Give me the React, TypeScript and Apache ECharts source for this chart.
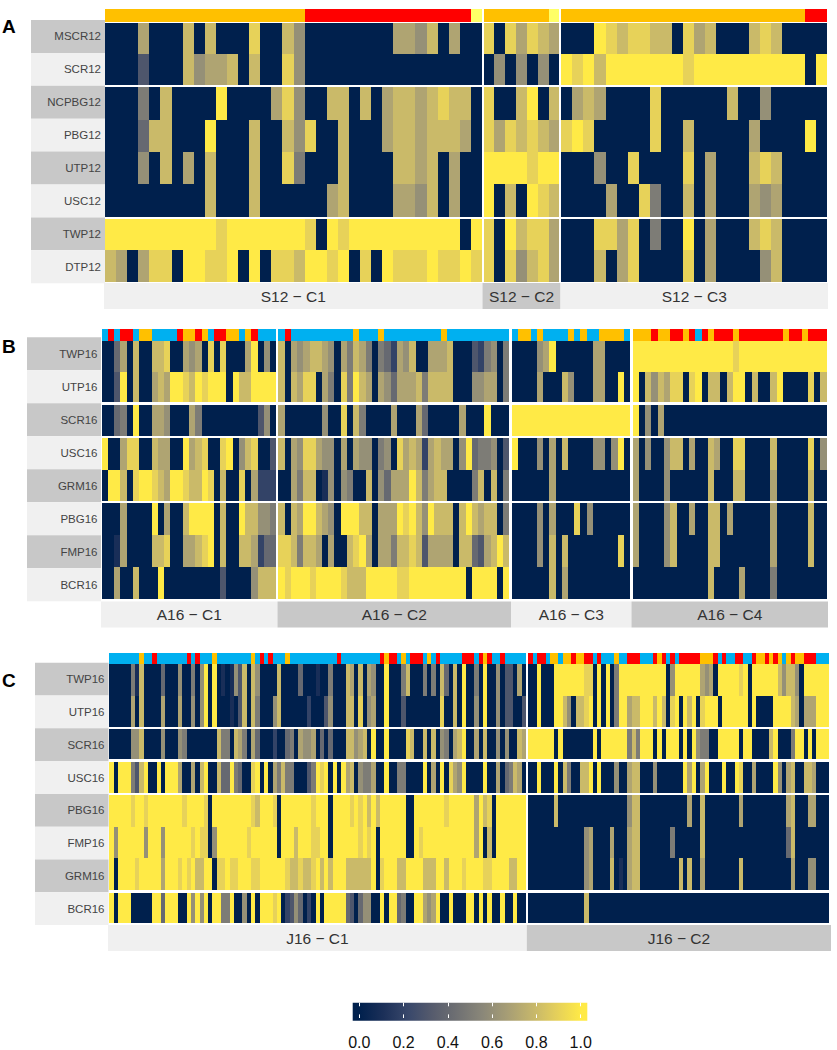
import React, { useEffect, useRef } from "react";
import * as echarts from "echarts";

// Colour-bar and annotation codes
const CIVIDIS = ["#00204D", "#1C3059", "#39486B", "#575C6D", "#707173", "#8A8779", "#A69D75", "#C4B56C", "#E4CF5B", "#FFEA46"];
const ANNOT_CODES = ["O", "R", "B", "Y"];
const ANNOT_COLORS = ["#FFC000", "#FF0000", "#00B0F0", "#FFFF66"];
const LEGEND_TICKS = [0, 0.2, 0.4, 0.6, 0.8, 1];

// Values: one character per cell, in tenths; X = 1.0 (spaces are ignored)
const A_ROWS = ["MSCR12", "SCR12", "NCPBG12", "PBG12", "UTP12", "USC12", "TWP12", "DTP12"];
const A_NAMES = ["S12 \u2212 C1", "S12 \u2212 C2", "S12 \u2212 C3"];
const S12_C1_ANNOT = "OOOOOOOOOOOOOOOOOO RRRRRRRRRRRRRRR Y";
const S12_C1 = [
  "000 7 000 8 0 8 000 9 00 8 6 00000000 7768 0 7 00",
  "000 3 000 8 6 7 7 8 0 8 00 9 6 0000000000000000",
  "000508 0000 X 0000 796 00 88 0 8 0 78878988 0",
  "000 4 8 8 000 X 000 8 00 8 6 9 00 8 000 7 8 8 7 8 8 8 7 0",
  "000 6 0 8 0 7 0 8 000 8 00 9 5 000 8 0000 8 8 7 8 0 7 00",
  "000000000 8 000 8 000000 7 8 0000 7 7 6 8 0 7 00",
  "XXXXXXXXXX 9 XXXXXXX 9 0 X 9 XXXXXXXXXX 0 X",
  "8 7 0 7 9 9 0 X X 9 9 X 0 X 0 9 9 8 X X 9 X 0 9 0 X 9 9 9 X 9 9 X 9",
];
const S12_C2_ANNOT = "OOOOOOY";
const S12_C2 = ["9097987", "0606060", "9008X08", "9798987", "XXXX9XX", "X080X98", "90X8997", "9096897"];
const S12_C3_ANNOT = "OOOOOOOOOOOOOOOOOOOOOO RR";
const S12_C3 = [
  "000 X 9 8 9 9 8 8 0 9 7 8 000 8 9 8 0000",
  "X 9 X 8 XXXXXXX 9 XXXXXXXXXX 0 X",
  "0 7 8 7 0000 9 000000 8 00 6 00000",
  "9 X 9 00000 9 00 8 00000 7 0000 X 0",
  "000 6 00 9 0000 9 0 7 000 8 9 8 0000",
  "0000 7 00 9 5 00 8 0 7 000 7 6 7 0000",
  "000 9 9 7 9 0 5 00 X 0 7 000 8 9 8 0000",
  "000 8 0 7 9 0000 9 0 7 0000 6 8 0000",
];

const B_ROWS = ["TWP16", "UTP16", "SCR16", "USC16", "GRM16", "PBG16", "FMP16", "BCR16"];
const B_NAMES = ["A16 \u2212 C1", "A16 \u2212 C2", "A16 \u2212 C3", "A16 \u2212 C4"];
const A16_C1_ANNOT = "BRBRRBOOBBBBROOROBRROOBORBBB";
const A16_C1 = [
  "0 0 4 7 0 8 0 0 8 8 9 0 0 7 6 7 0 9 0 9 0 0 0 7 X 0 6 0",
  "0 0 3 X 0 8 0 0 7 8 7 X X 9 8 X 9 X X X 0 X 8 8 X X X X",
  "0 0 4 5 0 X 0 0 7 7 6 0 0 0 7 5 0 0 0 0 0 0 0 0 0 3 6 0",
  "X 0 0 7 9 9 0 0 8 7 7 0 0 X 7 8 9 0 0 9 X 0 6 8 9 0 0 3",
  "0 X X 8 0 9 X X 9 8 7 X X 9 8 8 X 9 0 8 0 0 9 0 7 2 2 2",
  "0 0 0 7 0 0 0 0 X 0 7 0 0 8 X X X X 0 8 0 0 X 8 8 6 6 5",
  "0 0 1 7 0 0 0 0 8 8 9 0 0 7 7 8 9 X 0 8 0 0 8 8 7 2 4 4",
  "0 0 7 0 0 8 0 0 0 X 0 0 0 0 0 0 0 0 0 3 0 0 0 0 6 8 8 8",
];
const A16_C2_ANNOT = "BR BBBBBBBBBB O BBB O BBBBBBBBB O BBBBBBBBBB";
const A16_C2 = [
  "8 0 7 6 7 8 8 7 6 0 7 5 8 7 5 0 5 4 2 7 6 8 0 0 7 7 7 8 0 0 0 3 2 5 6 0 5",
  "8 0 8 7 9 9 0 7 5 0 9 5 X 8 7 0 7 6 4 7 7 7 8 5 8 8 8 8 0 0 0 6 6 7 7 0 5",
  "7 000000 6 00 9 0 8 5 0000 7 000 7 4 00000 7 000 X 000",
  "8 0 7 6 9 9 7 6 6 0 7 0 7 6 6 0 5 6 0 9 7 8 7 2 7 8 7 7 0 6 X 4 5 5 6 0 3",
  "0 0 7 5 8 8 0 1 6 0 6 5 0 0 8 0 6 4 7 7 7 X 8 5 7 8 8 0 0 0 0 5 8 0 8 0 5",
  "8 0 8 7 X X 8 7 6 0 X X X 8 8 0 7 7 7 X 9 X 8 6 X 8 8 8 0 8 X 8 7 8 8 0 5",
  "9 9 8 5 8 8 7 0 7 0 0 8 9 X 7 0 7 7 5 8 8 9 8 3 7 7 7 7 0 8 8 4 3 7 8 X 8",
  "X 9 X X X 9 X X X X 9 8 8 8 X X X X X 9 9 X X X X X X X X X 0 X X X X 0 X",
];
const A16_C3_ANNOT = "B OO B O BBBB O B O BB OOOO B";
const A16_C3 = [
  "0000 6 7 X 000000 7 7 0000",
  "0000 7 000 8 6 000 7 7 00 X 0",
  "XXXXXXXXXXXXXXXXXXX",
  "X 000 6 0 7 0 8 0000 6 6 0 6 X 0",
  "000000 7 000000000000",
  "0000 6 0 7 000 9 0 6 000000",
  "0000 6 0 8 0 8 00000000 9 0",
  "000000 8 0 7 0000000000",
];
const A16_C4_ANNOT = "OOO R OO RR O R B R O RRR O RRRRRRR O RR O RRR";
const A16_C4 = [
  "XXXXXXXXXXXXXXXX 9 XXXXXXXXXXXXXX",
  "X 0 8 6 8 7 9 9 0 9 X 0 8 8 0 8 X X 0 8 0 0 8 X 0 0 0 0 9 0 8",
  "X 0 6 0 7 00000000000000000000000000",
  "7 0 6 0 0 6 8 8 0 7 0 0 8 7 0 0 9 9 0 0 0 0 8 0 0 0 0 0 9 0 6",
  "7 0000 6 000000 8 000 8 8 0000 7 00000 8 00",
  "7 0000 6 8 00 7 00 8 8 0 7 000000 7 00000 8 00",
  "7 0000 6 8 00000 8 8 00000000 7 00000 8 00",
  "000000000000 8 0000 7 0000 5 00000000",
];

const C_ROWS = ["TWP16", "UTP16", "SCR16", "USC16", "PBG16", "FMP16", "GRM16", "BCR16"];
const C_NAMES = ["J16 \u2212 C1", "J16 \u2212 C2"];
const J16_C1_ANNOT = "BBBBBBBOBB RBBBBBBBRB RBBBOBBBBB BBBOBRBRBB BOBBBBBBBB BBBRBBBBBB BBBRORRBOB RRRBOBRBBB BBRRRBRORB BRBBBBB";
const J16_C1 = [
  "0000051800 0040006005 06X0X01016 3808600008 0000400010 0500087080 7600X00058 0005050840 80X0050X00 6033070",
  "0000070800 0070007006 06X0X00010 3808500068 0000002000 3600088090 6700X00030 0000000900 80X0060X00 6033003",
  "0000066800 0060006500 0000085508 7507400020 0450766704 0400088678 0X00X00009 8008080650 78X0070800 6060087",
  "X0XXX538X0 0X0XXX7007 08X00844X5 4009X0X075 85500035X9 X0X0X78065 5700X00550 000X070X09 76X0000X00 7045870",
  "XXXXX9XX9X XXXXXXX9XX XX90XXXXXX XXX98XXX90 XXXXXXX9XX X0XXXX9X9X 8X8XXXXXX0 0XXXXXXX9X XXXXX7X890 XXXXXXX",
  "X6XXXXXX6X XX6XXXXXX9 X9906XXXXX XX9XXXXXX0 XXX8XXX99X X0XXXXXX9X 9X0XXXXXX0 0X9XXXXXXX XXXXX7X080 XXXXXXX",
  "X0XXXX9XXX XX7XXX9X9X 88XX099X99 XXX99XXXXX X9889889X8 X8XXX88888 8X09XXX88X XXX888XX8X XX9XXXX99X XXX88XX",
  "X0XXX00000 XX4XXX00X6 X6X0XX55X0 060X0XXX9X 02364020X0 XXXXX43046 600X0XX450 0XX767X00X 000XX0X0X0 0X00X00",
];
const J16_C2_ANNOT = "RBRRBOOBOO ROORRBRBBB OBBRRRBBBR ORBRBRRRRR OOORBRBBRR BBROOROROB OROORRRBBB";
const J16_C2 = [
  "00X000XXXX XXX990X0X0 5XXXXXXXXX XX06XXXXXX 7670XXXXX9 X0XXXXXX86 8860XXXXXX",
  "00X000XX86 0889X0X0X0 5XX788XXX8 X809X0X8X0 9XXX0XXXXX X0X0000XXX X870777XXX",
  "XXXXXX0X00 00000X0XXX XXX585XXX0 X0XXX0X0X6 5500XXXXX0 XX00008X00 05XX0X0XXX",
  "00X000X085 0088X0X000 6007880006 000000X7X0 7X000X00X9 0070000X60 7800887000",
  "0000008000 0000000000 0006880000 0000000700 8000000007 0000000000 7800077000",
  "0000000000 0006700007 0007880000 0005000000 8000000000 0000000000 4800000000",
  "0000000000 0006700008 0107880000 0000080800 7000000008 0000000000 0700066000",
  "0000000000 0008000000 0000000000 0000000000 0000000000 0000000000 0000000000",
];

// Layout (page pixels)
const PANELS = [
  {
    letter: "A", letterY: 26, labelRight: 101, boxX: [31, 105], boxY: 20, boxH: 32.9,
    annotY: [9.3, 22.2], groups: [[0, 2, 22.6, 85], [2, 6, 87.3, 216.7], [6, 8, 218.7, 281.7]],
    stripY: [283, 309], rows: A_ROWS, names: A_NAMES,
    facetX: [[105, 482], [483.6, 559.4], [561.3, 826.7]],
    stripX: [[104, 482.5], [482.5, 560.5], [560.5, 828]],
    stripDark: [false, true, false],
    annots: [S12_C1_ANNOT, S12_C2_ANNOT, S12_C3_ANNOT], values: [S12_C1, S12_C2, S12_C3],
  },
  {
    letter: "B", letterY: 346, labelRight: 97.5, boxX: [27, 101], boxY: 337.3, boxH: 33,
    annotY: [329.3, 340.7], groups: [[0, 2, 340.7, 402.3], [2, 3, 404.7, 435.7], [3, 5, 437.7, 501.3], [5, 8, 503.3, 599.3]],
    stripY: [601.5, 627.5], rows: B_ROWS, names: B_NAMES,
    facetX: [[101.7, 276.4], [278.3, 509.3], [512.3, 630], [632.7, 826.7]],
    stripX: [[101, 277.5], [277.5, 511], [511, 631.5], [631.5, 828]],
    stripDark: [false, true, false, true],
    annots: [A16_C1_ANNOT, A16_C2_ANNOT, A16_C3_ANNOT, A16_C4_ANNOT], values: [A16_C1, A16_C2, A16_C3, A16_C4],
  },
  {
    letter: "C", letterY: 680, labelRight: 104.5, boxX: [35, 108.5], boxY: 662.7, boxH: 32.8,
    annotY: [653.3, 663.6], groups: [[0, 2, 664.3, 726.7], [2, 3, 729.3, 759.3], [3, 4, 762, 792.7], [4, 7, 795, 890], [7, 8, 892.7, 923]],
    stripY: [925, 951], rows: C_ROWS, names: C_NAMES,
    facetX: [[109.3, 526], [528.3, 829.3]],
    stripX: [[108, 526.8], [526.8, 831]],
    stripDark: [false, true],
    annots: [J16_C1_ANNOT, J16_C2_ANNOT], values: [J16_C1, J16_C2],
  },
];

const FONT = "'Liberation Sans', Arial, sans-serif";
const clean = (s: string) => s.replace(/\s/g, "");
const parseRow = (s: string) => clean(s).split("").map((c) => (c === "X" ? 1 : Number(c) / 10));

// Cells go through the axes' own scale, with their edges snapped to whole pixels so no seams show.
const snap = (v: number) => Math.round(v + 0.001);
const renderCell = (_: any, api: any) => {
  const c = api.coord([api.value(0), api.value(1)]);
  const s = api.size([1, 1]);
  const x0 = snap(c[0] - s[0] / 2);
  const x1 = snap(c[0] + s[0] / 2);
  const y0 = snap(c[1] - s[1] / 2);
  const y1 = snap(c[1] + s[1] / 2);
  return { type: "rect", shape: { x: x0, y: y0, width: x1 - x0, height: y1 - y0 }, style: { fill: api.visual("color") } };
};

function buildOption() {
  const grid: any[] = [];
  const xAxis: any[] = [];
  const yAxis: any[] = [];
  const series: any[] = [];
  const graphic: any[] = [];
  const valueSeries: number[] = [];
  const annotSeries: number[] = [];

  const addGrid = (x: number[], y: number[], cols: number, cats: string[]) => {
    const idx = grid.length;
    grid.push({ left: x[0], width: x[1] - x[0], top: y[0], height: y[1] - y[0], containLabel: false });
    xAxis.push({ type: "category", gridIndex: idx, show: false, data: Array.from({ length: cols }, (_, i) => i) });
    yAxis.push({ type: "category", gridIndex: idx, show: false, inverse: true, data: cats });
    return idx;
  };
  const cellSeries = (g: number, data: number[][]) => ({
    type: "custom", coordinateSystem: "cartesian2d", xAxisIndex: g, yAxisIndex: g,
    encode: { x: 0, y: 1 }, silent: true, renderItem: renderCell, data,
  });

  PANELS.forEach((p) => {
    graphic.push({
      type: "text", x: 2, y: p.letterY, z: 2,
      style: { text: p.letter, font: `bold 19px ${FONT}`, fill: "#000", verticalAlign: "middle", textAlign: "left" },
    });
    p.rows.forEach((name, r) => {
      const top = p.boxY + r * p.boxH;
      graphic.push({
        type: "rect", z: 1, shape: { x: p.boxX[0], y: top, width: p.boxX[1] - p.boxX[0], height: p.boxH },
        style: { fill: r % 2 === 0 ? "#C8C8C8" : "#F0F0F0" },
      });
      graphic.push({
        type: "text", z: 2, x: p.labelRight, y: top + p.boxH / 2,
        style: { text: name, font: `11.5px ${FONT}`, fill: "#444", textAlign: "right", verticalAlign: "middle" },
      });
    });
    p.names.forEach((name, f) => {
      const sx = p.stripX[f];
      graphic.push({
        type: "rect", z: 1, shape: { x: sx[0], y: p.stripY[0], width: sx[1] - sx[0], height: p.stripY[1] - p.stripY[0] },
        style: { fill: p.stripDark[f] ? "#C8C8C8" : "#F0F0F0" },
      });
      graphic.push({
        type: "text", z: 2, x: (sx[0] + sx[1]) / 2, y: (p.stripY[0] + p.stripY[1]) / 2,
        style: { text: name, font: `15.5px ${FONT}`, fill: "#333", textAlign: "center", verticalAlign: "middle" },
      });

      const annot = clean(p.annots[f]);
      const n = annot.length;
      const fx = p.facetX[f];
      const ag = addGrid(fx, p.annotY, n, ["annotation"]);
      annotSeries.push(series.length);
      series.push(cellSeries(ag, annot.split("").map((c, i) => [i, 0, ANNOT_CODES.indexOf(c)])));

      const rows = p.values[f].map(parseRow);
      p.groups.forEach(([r0, r1, y0, y1]) => {
        const g = addGrid(fx, [y0, y1], n, p.rows.slice(r0, r1));
        const data: number[][] = [];
        rows.slice(r0, r1).forEach((vals, r) => {
          vals.slice(0, n).forEach((v, c) => data.push([c, r, v]));
        });
        valueSeries.push(series.length);
        series.push(cellSeries(g, data));
      });
    });
  });

  // Colour bar
  const barLeft = 352.7, barRight = 587.3, zeroX = 359.3, oneX = 580.7;
  const span = barRight - barLeft;
  graphic.push({
    type: "rect", z: 1, shape: { x: barLeft, y: 1002.7, width: span, height: 18 },
    style: {
      fill: new echarts.graphic.LinearGradient(0, 0, 1, 0, [
        { offset: 0, color: CIVIDIS[0] },
        ...CIVIDIS.map((color, i) => ({
          offset: (zeroX - barLeft + ((oneX - zeroX) * i) / (CIVIDIS.length - 1)) / span,
          color,
        })),
        { offset: 1, color: CIVIDIS[CIVIDIS.length - 1] },
      ]),
    },
  });
  const lg = grid.length;
  grid.push({ left: zeroX, width: oneX - zeroX, top: 1002.7, height: 18, containLabel: false });
  yAxis.push({ type: "value", gridIndex: lg, show: false, min: 0, max: 1 });
  const tickStyle = { show: true, inside: true, length: 3.6, lineStyle: { color: "#fff", width: 1 } };
  xAxis.push({
    type: "value", gridIndex: lg, position: "bottom", min: LEGEND_TICKS[0], max: LEGEND_TICKS[5], interval: 0.2, z: 10,
    axisLine: { show: false }, splitLine: { show: false }, axisTick: tickStyle,
    axisLabel: { fontSize: 16, color: "#111", fontFamily: FONT, margin: 16, formatter: (v: number) => v.toFixed(1) },
  });
  xAxis.push({
    type: "value", gridIndex: lg, position: "top", min: LEGEND_TICKS[0], max: LEGEND_TICKS[5], interval: 0.2, z: 10,
    axisLine: { show: false }, splitLine: { show: false }, axisTick: tickStyle, axisLabel: { show: false },
  });

  return {
    animation: false,
    backgroundColor: "#fff",
    grid, xAxis, yAxis, series, graphic,
    visualMap: [
      { show: false, type: "continuous", min: 0, max: 1, seriesIndex: valueSeries, dimension: 2, inRange: { color: CIVIDIS } },
      {
        show: false, type: "piecewise", seriesIndex: annotSeries, dimension: 2,
        pieces: ANNOT_COLORS.map((color, i) => ({ value: i, color })),
      },
    ],
  };
}

export default function App() {
  const ref = useRef<HTMLDivElement>(null);
  useEffect(() => {
    document.body.style.margin = "0";
    const chart = echarts.init(ref.current!, undefined, { renderer: "svg" });
    chart.setOption(buildOption() as any);
    return () => chart.dispose();
  }, []);
  return <div ref={ref} style={{ width: 837, height: 1050 }} />;
}
